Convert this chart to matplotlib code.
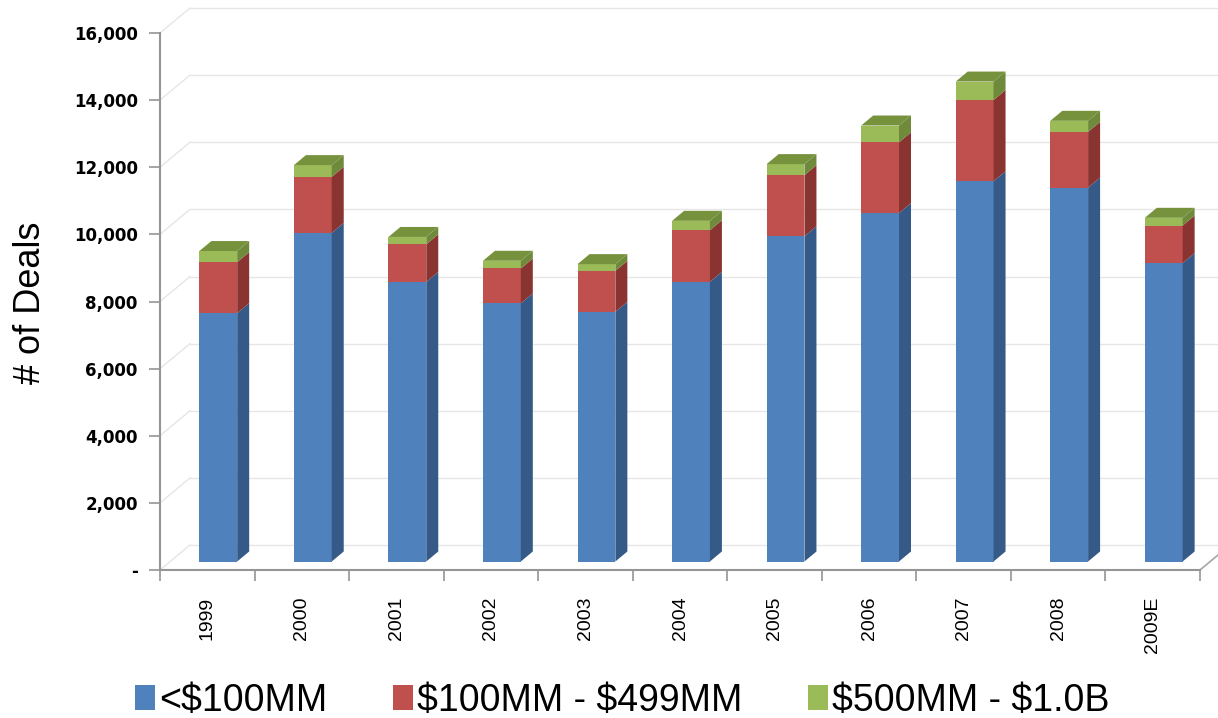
import numpy as np
import matplotlib.pyplot as plt
from matplotlib.patches import Polygon, Patch
from matplotlib.ticker import FuncFormatter, MultipleLocator, FixedLocator

# Deal counts by size bucket
years = ['1999', '2000', '2001', '2002', '2003', '2004', '2005', '2006', '2007', '2008', '2009E']
under_100mm = [7400, 9790, 8330, 7690, 7440, 8330, 9690, 10380, 11330, 11140, 8890]
mm100_499 = [1520, 1670, 1120, 1040, 1220, 1540, 1820, 2110, 2420, 1660, 1120]
mm500_1b = [330, 350, 220, 230, 200, 280, 330, 500, 550, 330, 230]

series = [under_100mm, mm100_499, mm500_1b]
labels = [r'<\$100MM', r'\$100MM - \$499MM', r'\$500MM - \$1.0B']
front_colors = ['#4F81BD', '#C0504D', '#9BBB59']
side_colors = ['#365A87', '#8A3432', '#6E8A3A']
top_colors = ['#6C93C7', '#D26F6C', '#76923C']

narrow = ['Liberation Sans Narrow', 'Liberation Sans', 'DejaVu Sans']

W, H, DPI = 1218, 718, 100
fig = plt.figure(figsize=(W / DPI, H / DPI), dpi=DPI)

# axes box in pixels (front plane of the pseudo-3D chart)
left, right, bottom, top = 160, 1200, 570, 33
ax = fig.add_axes([left / W, 1 - bottom / H, (right - left) / W, (bottom - top) / H])
n = len(years)
ymax = 16000
ax.set_xlim(-0.5, n - 0.5)
ax.set_ylim(0, ymax)

# pixel -> data conversions for the depth offsets
ux = n / (right - left)
uy = ymax / (bottom - top)
fdx, fdy = 11 * ux, 8.5 * uy     # bar front face sits back from the axis plane
bdx, bdy = 12 * ux, 10 * uy      # depth of each column
wdx, wdy = 30 * ux, 25 * uy      # back wall

grid_col = '#E6E6E6'
for v in range(0, ymax + 1, 2000):
    ax.plot([-0.5 + wdx, n - 0.5 + wdx + 1], [v + wdy, v + wdy], color=grid_col,
            lw=1, zorder=1, clip_on=False)
    ax.plot([-0.5, -0.5 + wdx], [v, v + wdy], color=grid_col, lw=1, zorder=1, clip_on=False)
ax.plot([n - 0.5, n - 0.5 + wdx], [0, wdy], color='#A6A6A6', lw=1.2, zorder=1, clip_on=False)

x = np.arange(n)
width = 0.4
base = np.zeros(n)
for k, vals in enumerate(series):
    vals = np.array(vals, dtype=float)
    ax.bar(x + fdx, vals, bottom=base + fdy, width=width, color=front_colors[k],
           edgecolor='none', zorder=3)
    for i in range(n):
        xr = x[i] + fdx + width / 2
        b0 = base[i] + fdy
        b1 = base[i] + vals[i] + fdy
        ax.add_patch(Polygon([(xr, b0), (xr + bdx, b0 + bdy), (xr + bdx, b1 + bdy), (xr, b1)],
                             closed=True, facecolor=side_colors[k], edgecolor='none',
                             zorder=3, clip_on=False))
        if k == len(series) - 1:
            xl = xr - width
            ax.add_patch(Polygon([(xl, b1), (xr, b1), (xr + bdx, b1 + bdy), (xl + bdx, b1 + bdy)],
                                 closed=True, facecolor=top_colors[k], edgecolor='none',
                                 zorder=3, clip_on=False))
    base += vals

# axes styling
for s in ['top', 'right']:
    ax.spines[s].set_visible(False)
for s in ['left', 'bottom']:
    ax.spines[s].set_color('#959595')
    ax.spines[s].set_linewidth(1.5)

ax.yaxis.set_major_locator(MultipleLocator(2000))
ax.yaxis.set_major_formatter(FuncFormatter(lambda v, p: '-' if v == 0 else f'{v:,.0f}'))
ax.tick_params(axis='y', length=8, width=1.2, color='#959595', pad=8, labelsize=12)
for t in ax.get_yticklabels():
    t.set_fontweight('bold')

ax.set_xticks(x)
ax.set_xticklabels(years, rotation=90, fontsize=14, family='Liberation Sans', va='top')
ax.tick_params(axis='x', which='major', length=0, pad=19)
ax.xaxis.set_minor_locator(FixedLocator(np.arange(-0.5, n, 1.0)))
ax.tick_params(axis='x', which='minor', length=8, width=1.2, color='#959595')

fig.text(30 / W, 1 - 303 / H, '# of Deals', rotation=90, ha='center', va='center',
         fontsize=26, family=narrow)

handles = [Patch(facecolor=c, edgecolor='none') for c in front_colors]
fig.legend(handles, labels, loc='center', bbox_to_anchor=(0.511, 1 - 701 / H), ncol=3,
           frameon=False, prop={'family': narrow, 'size': 27},
           handlelength=0.53, handleheight=0.65, handletextpad=0.13, columnspacing=1.73)

fig.savefig('out.png', dpi=DPI)
